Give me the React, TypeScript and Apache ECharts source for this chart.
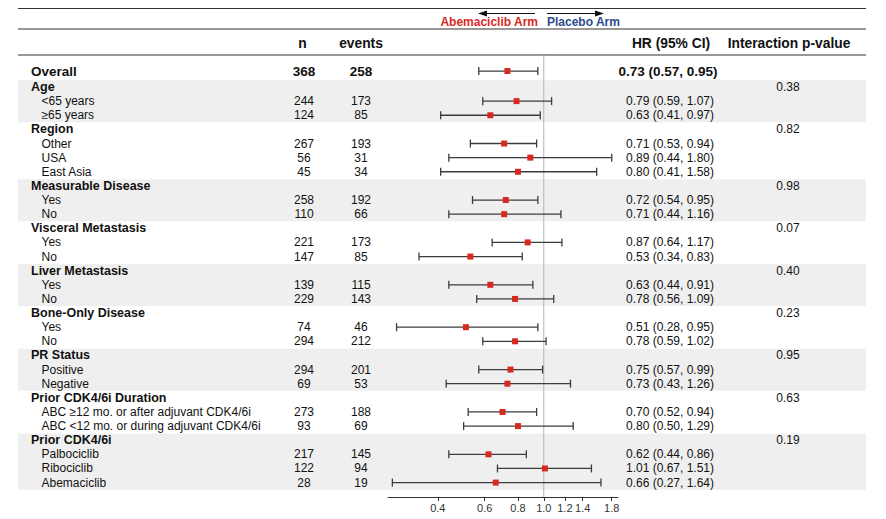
import React, { useEffect, useRef } from "react";
import * as echarts from "echarts";

const rowLabels = [
  "Overall",
  "Age", "<65 years", "≥65 years",
  "Region", "Other", "USA", "East Asia",
  "Measurable Disease", "Yes", "No",
  "Visceral Metastasis", "Yes", "No",
  "Liver Metastasis", "Yes", "No",
  "Bone-Only Disease", "Yes", "No",
  "PR Status", "Positive", "Negative",
  "Prior CDK4/6i Duration", "ABC ≥12 mo. or after adjuvant CDK4/6i", "ABC <12 mo. or during adjuvant CDK4/6i",
  "Prior CDK4/6i", "Palbociclib", "Ribociclib", "Abemaciclib",
];
const rowKinds = [
  "overall",
  "group", "item", "item",
  "group", "item", "item", "item",
  "group", "item", "item",
  "group", "item", "item",
  "group", "item", "item",
  "group", "item", "item",
  "group", "item", "item",
  "group", "item", "item",
  "group", "item", "item", "item",
];
const nValues = [368, null, 244, 124, null, 267, 56, 45, null, 258, 110, null, 221, 147, null, 139, 229, null, 74, 294, null, 294, 69, null, 273, 93, null, 217, 122, 28];
const eventValues = [258, null, 173, 85, null, 193, 31, 34, null, 192, 66, null, 173, 85, null, 115, 143, null, 46, 212, null, 201, 53, null, 188, 69, null, 145, 94, 19];
const hrValues = [0.73, null, 0.79, 0.63, null, 0.71, 0.89, 0.80, null, 0.72, 0.71, null, 0.87, 0.53, null, 0.63, 0.78, null, 0.51, 0.78, null, 0.75, 0.73, null, 0.70, 0.80, null, 0.62, 1.01, 0.66];
const lowerCI = [0.57, null, 0.59, 0.41, null, 0.53, 0.44, 0.41, null, 0.54, 0.44, null, 0.64, 0.34, null, 0.44, 0.56, null, 0.28, 0.59, null, 0.57, 0.43, null, 0.52, 0.50, null, 0.44, 0.67, 0.27];
const upperCI = [0.95, null, 1.07, 0.97, null, 0.94, 1.80, 1.58, null, 0.95, 1.16, null, 1.17, 0.83, null, 0.91, 1.09, null, 0.95, 1.02, null, 0.99, 1.26, null, 0.94, 1.29, null, 0.86, 1.51, 1.64];
const pValues = [null, "0.38", null, null, "0.82", null, null, null, "0.98", null, null, "0.07", null, null, "0.40", null, null, "0.23", null, null, "0.95", null, null, "0.63", null, null, "0.19", null, null, null];
const axisTicks = [0.4, 0.6, 0.8, 1.0, 1.2, 1.4, 1.8];
const axisRange = [0.26, 1.9];

const FONT = '"Liberation Sans", Arial, Helvetica, sans-serif';
const RED = "#d8291f";
const BLUE = "#2b4b8c";
const TXT = "#111";

const rowPos = (i: number) => (i === 0 ? -1.13 : i - 1);
const Y_MIN = -2.265;
const Y_MAX = 29.02;

export default function App() {
  const ref = useRef<HTMLDivElement>(null);
  useEffect(() => {
    if (!ref.current) return;
    const chart = echarts.init(ref.current, null, { renderer: "svg" });

    const bands: number[][] = [];
    let g = -1;
    for (let i = 0; i < rowLabels.length; i++) {
      if (rowKinds[i] === "group") {
        g++;
        let end = i;
        while (end + 1 < rowLabels.length && rowKinds[end + 1] === "item") end++;
        if (g % 2 === 0) bands.push([rowPos(i) - 0.47, rowPos(end) + 0.5]);
      }
    }

    const textData = rowLabels.map((_, i) => [rowPos(i), i]);
    const forestData: number[][] = [];
    rowLabels.forEach((_, i) => {
      if (hrValues[i] != null) {
        forestData.push([Math.log(hrValues[i] as number), Math.log(lowerCI[i] as number), Math.log(upperCI[i] as number), rowPos(i)]);
      }
    });

    const hrText = (i: number) =>
      `${(hrValues[i] as number).toFixed(2)} (${(lowerCI[i] as number).toFixed(2)}, ${(upperCI[i] as number).toFixed(2)})`;

    const option: any = {
      animation: false,
      grid: [
        { left: 0, top: 55, width: 886, height: 442 },
        { left: 388, top: 55, width: 230, height: 442 },
      ],
      xAxis: [
        { gridIndex: 0, type: "value", min: 0, max: 886, show: false },
        {
          gridIndex: 1,
          type: "value",
          position: "bottom",
          min: Math.log(axisRange[0]),
          max: Math.log(axisRange[1]),
          splitLine: { show: false },
          axisLine: { show: true, onZero: false, lineStyle: { color: "#333", width: 1 } },
          axisTick: {
            show: true,
            length: 4,
            lineStyle: { color: "#333" },
            customValues: axisTicks.map((t) => Math.log(t)),
          },
          axisLabel: {
            customValues: axisTicks.map((t) => Math.log(t)),
            formatter: (v: number) => Math.exp(v).toFixed(1),
            fontSize: 11,
            fontFamily: FONT,
            color: "#333",
            margin: 5,
          },
        },
      ],
      yAxis: [
        { gridIndex: 0, type: "value", min: Y_MIN, max: Y_MAX, inverse: true, show: false },
        { gridIndex: 1, type: "value", min: Y_MIN, max: Y_MAX, inverse: true, show: false },
      ],
      graphic: [
        { type: "line", shape: { x1: 18, y1: 8.5, x2: 866, y2: 8.5 }, style: { stroke: "#333", lineWidth: 1.2 } },
        { type: "line", shape: { x1: 18, y1: 29, x2: 866, y2: 29 }, style: { stroke: "#333", lineWidth: 1.2 } },
        { type: "line", shape: { x1: 18, y1: 55, x2: 866, y2: 55 }, style: { stroke: "#333", lineWidth: 1.2 } },
        { type: "line", shape: { x1: 535, y1: 13.5, x2: 484, y2: 13.5 }, style: { stroke: "#111", lineWidth: 1.2 } },
        { type: "polygon", shape: { points: [[478, 13.5], [487, 10.5], [487, 16.5]] }, style: { fill: "#111" } },
        { type: "line", shape: { x1: 547, y1: 13.5, x2: 598, y2: 13.5 }, style: { stroke: "#111", lineWidth: 1.2 } },
        { type: "polygon", shape: { points: [[604, 13.5], [595, 10.5], [595, 16.5]] }, style: { fill: "#111" } },
        { type: "text", x: 538, y: 22, style: { text: "Abemaciclib Arm", align: "right", verticalAlign: "middle", fill: RED, font: `bold 12px ${FONT}` } },
        { type: "text", x: 547, y: 22, style: { text: "Placebo Arm", align: "left", verticalAlign: "middle", fill: BLUE, font: `bold 12px ${FONT}` } },
        { type: "text", x: 302.5, y: 43, style: { text: "n", align: "center", verticalAlign: "middle", fill: TXT, font: `bold 13.8px ${FONT}` } },
        { type: "text", x: 361, y: 43, style: { text: "events", align: "center", verticalAlign: "middle", fill: TXT, font: `bold 13.8px ${FONT}` } },
        { type: "text", x: 671, y: 43, style: { text: "HR (95% CI)", align: "center", verticalAlign: "middle", fill: TXT, font: `bold 13.8px ${FONT}` } },
        { type: "text", x: 789, y: 43, style: { text: "Interaction p-value", align: "center", verticalAlign: "middle", fill: TXT, font: `bold 13.8px ${FONT}` } },
      ],
      series: [
        {
          type: "custom",
          xAxisIndex: 0,
          yAxisIndex: 0,
          z: 0,
          silent: true,
          data: bands,
          renderItem: (params: any, api: any) => {
            const p0 = api.coord([18, api.value(0)]);
            const p1 = api.coord([866, api.value(1)]);
            return {
              type: "rect",
              shape: { x: p0[0], y: p0[1], width: p1[0] - p0[0], height: p1[1] - p0[1] },
              style: { fill: "#efefef" },
            };
          },
        },
        {
          type: "line",
          xAxisIndex: 1,
          yAxisIndex: 1,
          z: 1,
          silent: true,
          symbol: "none",
          data: [[0, Y_MIN], [0, Y_MAX]],
          lineStyle: { color: "#b5b5b5", width: 1 },
        },
        {
          type: "custom",
          xAxisIndex: 1,
          yAxisIndex: 1,
          z: 3,
          silent: true,
          data: forestData,
          renderItem: (params: any, api: any) => {
            const pos = api.value(3);
            const c = api.coord([api.value(0), pos]);
            const lo = api.coord([api.value(1), pos]);
            const hi = api.coord([api.value(2), pos]);
            const st = { stroke: "#3c3c3c", lineWidth: 1.3 };
            return {
              type: "group",
              children: [
                { type: "line", shape: { x1: lo[0], y1: lo[1], x2: hi[0], y2: hi[1] }, style: st },
                { type: "line", shape: { x1: lo[0], y1: lo[1] - 4, x2: lo[0], y2: lo[1] + 4 }, style: st },
                { type: "line", shape: { x1: hi[0], y1: hi[1] - 4, x2: hi[0], y2: hi[1] + 4 }, style: st },
                { type: "rect", shape: { x: c[0] - 3, y: c[1] - 3, width: 6, height: 6 }, style: { fill: RED } },
              ],
            };
          },
        },
        {
          type: "custom",
          xAxisIndex: 0,
          yAxisIndex: 0,
          z: 4,
          silent: true,
          data: textData,
          renderItem: (params: any, api: any) => {
            const i = api.value(1);
            const pos = api.value(0);
            const kind = rowKinds[i];
            const y = api.coord([0, pos])[1];
            const children: any[] = [];
            const txt = (x: number, text: string, align: string, font: string) =>
              children.push({ type: "text", x, y, style: { text, align, verticalAlign: "middle", fill: TXT, font } });
            if (kind === "overall") {
              const f = `bold 13.5px ${FONT}`;
              txt(31, rowLabels[i], "left", f);
              txt(304, String(nValues[i]), "center", f);
              txt(361, String(eventValues[i]), "center", f);
              txt(668, hrText(i), "center", f);
            } else if (kind === "group") {
              txt(31, rowLabels[i], "left", `bold 12.5px ${FONT}`);
              if (pValues[i]) txt(788, pValues[i] as string, "center", `12px ${FONT}`);
            } else {
              const f = `12px ${FONT}`;
              txt(41.5, rowLabels[i], "left", f);
              txt(304, String(nValues[i]), "center", f);
              txt(361, String(eventValues[i]), "center", f);
              txt(670, hrText(i), "center", f);
            }
            return { type: "group", children };
          },
        },
      ],
    };
    chart.setOption(option);
    return () => chart.dispose();
  }, []);
  return <div ref={ref} style={{ position: "fixed", left: 0, top: 0, width: 886, height: 519, background: "#fff" }} />;
}
